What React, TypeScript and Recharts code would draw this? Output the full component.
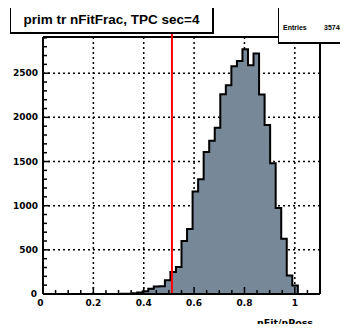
import React from 'react';
import {
  ComposedChart,
  Area,
  XAxis,
  YAxis,
  CartesianGrid,
  ReferenceLine,
} from 'recharts';

// 50 bins from 0 to 1.1
const BIN_LOW = 0;
const BIN_WIDTH = 0.022;
const binCounts = [
  0, 0, 0, 0, 0, 0, 0, 0, 0, 0,
  0, 0, 0, 0, 2, 4, 8, 18, 30, 60,
  85, 88, 155, 250, 305, 600, 736, 1160, 1300, 1608,
  1736, 1883, 2263, 2364, 2579, 2639, 2771, 2590, 2722, 2260,
  1913, 1481, 973, 626, 209, 96, 0, 0, 0, 0,
];

const X_MAX = 1.1;
const Y_MAX = 2910;
const cutValue = 0.512;
const entries = 35746;

const xMajor = [0, 0.2, 0.4, 0.6, 0.8, 1];
const xMajorLabels = ['0', '0.2', '0.4', '0.6', '0.8', '1'];
const xMinorStep = 0.05;
const yMajor = [0, 500, 1000, 1500, 2000, 2500];
const yMinorStep = 100;
const xGrid = [0.2, 0.4, 0.6, 0.8, 1];
const yGrid = [500, 1000, 1500, 2000, 2500];

const xTicks = Array.from({ length: Math.round(X_MAX / xMinorStep) + 1 }, (_, i) => +(i * xMinorStep).toFixed(2));
const yTicks = Array.from({ length: Math.floor(Y_MAX / yMinorStep) + 1 }, (_, i) => i * yMinorStep);

// step histogram: one point per lower bin edge, plus closing point
const histData = [
  ...binCounts.map((c, i) => ({ x: +(BIN_LOW + i * BIN_WIDTH).toFixed(4), n: c })),
  { x: X_MAX, n: binCounts[binCounts.length - 1] },
];

const W = 348;
const H = 332;

const tickFont = { fontFamily: 'DejaVu Sans', fontWeight: 700, fontSize: 9, fill: '#000' };

const indexIn = (arr: number[], v: number) => arr.findIndex((m) => Math.abs(m - v) < 1e-6);

const XTick = ({ x, y, payload }: any) => {
  const idx = indexIn(xMajor, payload.value);
  return (
    <g>
      <line x1={x} x2={x} y1={y} y2={y - (idx >= 0 ? 7 : 4)} stroke="#000" strokeWidth={1.5} />
      {idx >= 0 && (
        <text x={idx === 0 ? x - 2.5 : x} y={y + 12} textAnchor="middle" {...tickFont}>
          {xMajorLabels[idx]}
        </text>
      )}
    </g>
  );
};

const YTick = ({ x, y, payload }: any) => {
  const idx = indexIn(yMajor, payload.value);
  return (
    <g>
      <line x1={x} x2={x + (idx >= 0 ? 7 : 4)} y1={y} y2={y} stroke="#000" strokeWidth={1.5} />
      {idx >= 0 && (
        <text x={idx === 0 ? x - 6 : x - 5} y={y + 3} textAnchor="end" {...tickFont}>
          {payload.value}
        </text>
      )}
    </g>
  );
};

export default function App() {
  return (
    <div style={{ position: 'relative', margin: -8, width: W, height: H }}>
      <ComposedChart width={W} height={H} data={histData} margin={{ top: 37, right: 28, left: 3, bottom: 8 }}>
        <CartesianGrid
          horizontalValues={yGrid}
          verticalValues={xGrid}
          stroke="#000"
          strokeWidth={1.5}
          strokeDasharray="2 3"
        />
        <XAxis
          dataKey="x"
          type="number"
          domain={[0, X_MAX]}
          ticks={xTicks}
          interval={0}
          tick={<XTick />}
          tickLine={false}
          tickSize={0}
          tickMargin={0}
          height={30}
          axisLine={{ stroke: '#000', strokeWidth: 2 }}
        />
        <YAxis
          type="number"
          domain={[0, Y_MAX]}
          ticks={yTicks}
          interval={0}
          tick={<YTick />}
          tickLine={false}
          tickSize={0}
          tickMargin={0}
          width={40}
          axisLine={{ stroke: '#000', strokeWidth: 2 }}
        />
        <Area
          type="stepAfter"
          dataKey="n"
          stroke="#000"
          strokeWidth={2}
          fill="#778899"
          fillOpacity={1}
          baseValue={0}
          isAnimationActive={false}
        />
        <ReferenceLine y={Y_MAX} stroke="#000" strokeWidth={2} />
        <ReferenceLine x={X_MAX} stroke="#000" strokeWidth={2} />
        <ReferenceLine
          segment={[{ x: cutValue, y: 0 }, { x: cutValue, y: 3330 }]}
          ifOverflow="visible"
          stroke="#ff0000"
          strokeWidth={2}
        />
      </ComposedChart>
      <div
        style={{
          position: 'absolute',
          right: 35,
          top: 318,
          fontFamily: 'DejaVu Sans',
          fontWeight: 700,
          fontSize: 9.5,
          lineHeight: '10px',
          whiteSpace: 'nowrap',
        }}
      >
        nFit/nPoss
      </div>
      <div
        style={{
          position: 'absolute',
          left: 10,
          top: 7,
          width: 201,
          height: 24,
          borderStyle: 'solid',
          borderColor: '#000',
          borderWidth: '1.5px 2.5px 2.5px 1.5px',
          background: '#fff',
          fontFamily: 'Liberation Sans',
          fontWeight: 700,
          fontSize: 13.5,
          lineHeight: '24px',
          textAlign: 'center',
        }}
      >
        prim tr nFitFrac, TPC sec=4
      </div>
      <div
        style={{
          position: 'absolute',
          left: 278,
          top: 5,
          width: 68,
          height: 36,
          borderStyle: 'solid',
          borderColor: '#000',
          borderWidth: '1.5px 0 2.5px 1.5px',
          background: '#fff',
          fontFamily: 'Liberation Sans',
          fontWeight: 700,
          fontSize: 7,
        }}
      >
        <span style={{ position: 'absolute', left: 4, top: 18 }}>Entries</span>
        <span style={{ position: 'absolute', left: 45, top: 18 }}>{entries}</span>
      </div>
    </div>
  );
}
